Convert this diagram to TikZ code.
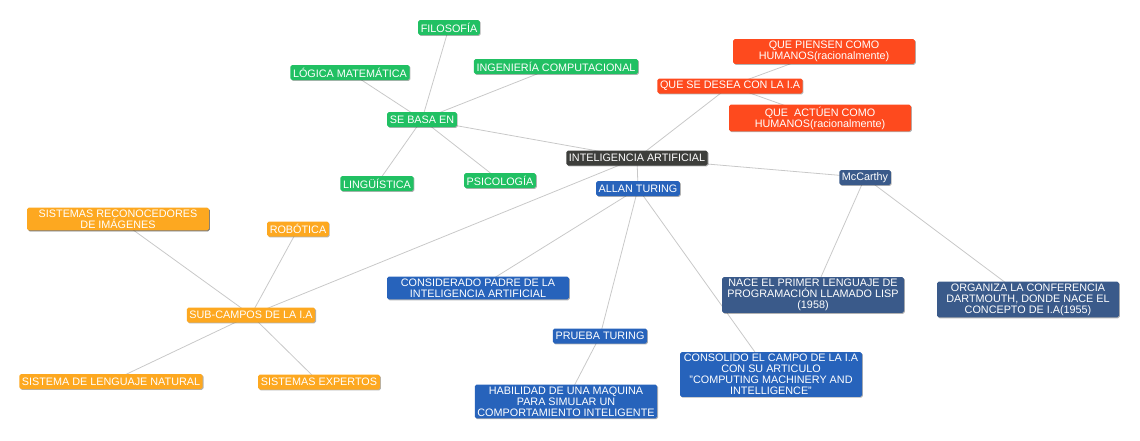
\documentclass[tikz,border=0pt]{standalone}
\usepackage{fontspec}
\setmainfont{Liberation Sans}
\usetikzlibrary{shadows,backgrounds}

\definecolor{verde}{HTML}{21C063}
\definecolor{rojo}{HTML}{FE4A1E}
\definecolor{naranja}{HTML}{FDA820}
\definecolor{azul}{HTML}{2763BB}
\definecolor{azuloscuro}{HTML}{3A5A8A}
\definecolor{gris}{HTML}{3D3E3B}
\definecolor{linea}{HTML}{C8C8C8}

\tikzset{
  caja/.style={rounded corners=1pt, text=white, inner xsep=1.5pt, inner ysep=1.2pt,
    font=\fontsize{6.15}{6.2}\selectfont, align=center, minimum height=0.3cm,
    drop shadow={shadow xshift=0.5pt, shadow yshift=-0.5pt, opacity=0.3, fill=black}},
  ancha/.style={caja, minimum width=3.64cm},
  verde/.style={caja, fill=verde},
  rojo/.style={fill=rojo},
  naranja/.style={caja, fill=naranja},
  azul/.style={fill=azul},
  azuloscuro/.style={fill=azuloscuro},
  enlace/.style={draw=linea, line width=0.45pt}
}

\begin{document}
\begin{tikzpicture}
\useasboundingbox (0,0) rectangle (22.8,-8.8);

\node [caja, fill=gris] (ia) at (12.74,-3.16) {INTELIGENCIA ARTIFICIAL};

% se basa en
\node [verde] (base) at (8.44,-2.39) {SE BASA EN};
\node [verde] (fil) at (8.98,-0.55) {FILOSOFÍA};
\node [verde] (log) at (7.0,-1.45) {LÓGICA MATEMÁTICA};
\node [verde] (ing) at (11.12,-1.33) {INGENIERÍA COMPUTACIONAL};
\node [verde] (ling) at (7.54,-3.67) {LINGÜÍSTICA};
\node [verde] (psi) at (10.0,-3.61) {PSICOLOGÍA};

% que se desea
\node [caja, rojo] (desea) at (14.6,-1.72) {QUE SE DESEA CON LA I.A};
\node [ancha, rojo] (piensen) at (16.48,-1.03) {QUE PIENSEN COMO\\HUMANOS(racionalmente)};
\node [ancha, rojo] (actuen) at (16.4,-2.36) {QUE~ ACTÚEN COMO\\HUMANOS(racionalmente)};

% sub-campos
\node [naranja] (sub) at (5.02,-6.3) {SUB-CAMPOS DE LA I.A};
\node [naranja, ancha] (recon) at (2.36,-4.38) {SISTEMAS RECONOCEDORES\\DE IMÁGENES};
\node [naranja] (rob) at (5.96,-4.58) {ROBÓTICA};
\node [naranja, minimum width=3.64cm] (leng) at (2.22,-7.63) {SISTEMA DE LENGUAJE NATURAL};
\node [naranja, minimum width=2.44cm] (exp) at (6.38,-7.64) {SISTEMAS EXPERTOS};

% turing
\node [caja, azul] (turing) at (12.76,-3.77) {ALLAN TURING};
\node [ancha, azul] (padre) at (9.56,-5.76) {CONSIDERADO PADRE DE LA\\INTELIGENCIA ARTIFICIAL};
\node [caja, azul] (prueba) at (12.0,-6.72) {PRUEBA TURING};
\node [ancha, azul] (habil) at (11.32,-8.03) {HABILIDAD DE UNA MAQUINA\\PARA SIMULAR UN\\COMPORTAMIENTO INTELIGENTE};
\node [ancha, azul] (consol) at (15.42,-7.49) {CONSOLIDO EL CAMPO DE LA I.A\\CON SU ARTICULO\\"COMPUTING MACHINERY AND\\INTELLIGENCE"};

% mccarthy
\node [caja, azuloscuro] (mcc) at (17.3,-3.55) {McCarthy};
\node [ancha, azuloscuro] (nace) at (16.26,-5.9) {NACE EL PRIMER LENGUAJE DE\\PROGRAMACIÓN LLAMADO LISP\\(1958)};
\node [ancha, azuloscuro] (organ) at (20.56,-5.99) {ORGANIZA LA CONFERENCIA\\DARTMOUTH, DONDE NACE EL\\CONCEPTO DE I.A(1955)};

\begin{scope}[on background layer]
\foreach \a/\b in {base/fil, base/log, base/ing, base/ling, base/psi, base/ia,
    ia/desea, desea/piensen, desea/actuen, ia/turing, ia/mcc, ia/sub,
    sub/recon, sub/rob, sub/leng, sub/exp,
    turing/padre, turing/prueba, prueba/habil, turing/consol,
    mcc/nace, mcc/organ}
  \draw [enlace] (\a.center) -- (\b.center);
\end{scope}

\end{tikzpicture}
\end{document}
